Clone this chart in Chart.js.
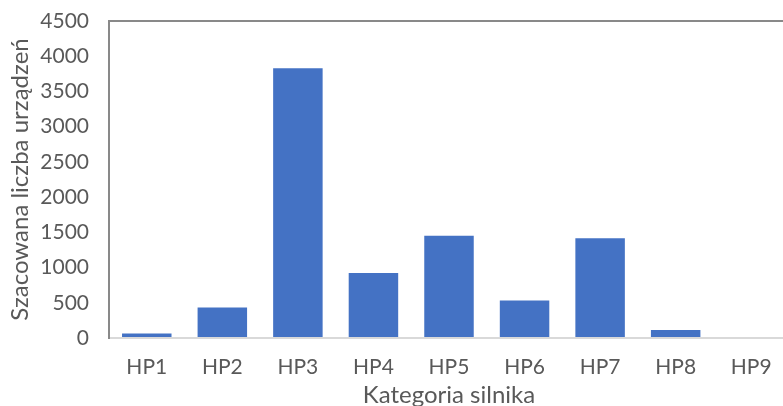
<!DOCTYPE html>
<html>
<head>
<meta charset="utf-8">
<script src="https://cdn.jsdelivr.net/npm/chart.js@4/dist/chart.umd.min.js"></script>
<style>
  html, body { margin: 0; padding: 0; background: #ffffff; overflow: hidden; }
  #wrap { position: absolute; left: 0; top: 0; width: 800px; height: 410px; }
</style>
</head>
<body>
<div id="wrap"><canvas id="c" width="800" height="410"></canvas></div>
<script>
// Motor categories and estimated number of devices per category
const categories = ['HP1', 'HP2', 'HP3', 'HP4', 'HP5', 'HP6', 'HP7', 'HP8', 'HP9'];
const deviceCounts = [63, 433, 3830, 921, 1452, 533, 1416, 114, 0];
const yTicks = [0, 500, 1000, 1500, 2000, 2500, 3000, 3500, 4000, 4500];

const textColor = '#595959';
const fontFamily = 'Lato, "Open Sans", sans-serif';
const tickSize = 21;
const titleSize = 24;

new Chart(document.getElementById('c'), {
  type: 'bar',
  data: {
    labels: categories,
    datasets: [{
      data: deviceCounts,
      backgroundColor: '#4472C4',
      borderWidth: 0,
      categoryPercentage: 1.0,
      barPercentage: 0.655
    }]
  },
  options: {
    responsive: false,
    animation: false,
    layout: { padding: { left: 0, right: 11, top: 0, bottom: 0 } },
    plugins: { legend: { display: false }, tooltip: { enabled: false } },
    scales: {
      x: {
        afterFit: (scale) => { scale.height = 72; },
        grid: { display: false, drawTicks: false },
        border: { display: true, color: '#D9D9D9', width: 2 },
        ticks: { color: textColor, font: { family: fontFamily, size: tickSize }, padding: 17 },
        title: {
          display: true, text: 'Kategoria silnika', color: textColor,
          font: { family: fontFamily, size: titleSize }, padding: { top: 0, bottom: 0 }
        }
      },
      y: {
        min: 0, max: 4500,
        afterBuildTicks: (axis) => { axis.ticks = yTicks.map(v => ({ value: v })); },
        afterFit: (scale) => { scale.width = 109; scale.paddingTop = 21; },
        grid: {
          drawTicks: false,
          color: (ctx) => (ctx.tick && ctx.tick.value === 4500 ? '#898989' : 'rgba(0,0,0,0)'),
          lineWidth: 2
        },
        border: { display: true, color: '#898989', width: 2 },
        ticks: {
          color: textColor, font: { family: fontFamily, size: tickSize }, padding: 20,
          callback: (v) => String(v)
        },
        title: {
          display: true, text: 'Szacowana liczba urządzeń', color: textColor,
          font: { family: fontFamily, size: titleSize }, padding: { top: 6, bottom: 0 }
        }
      }
    }
  }
});
</script>
</body>
</html>
